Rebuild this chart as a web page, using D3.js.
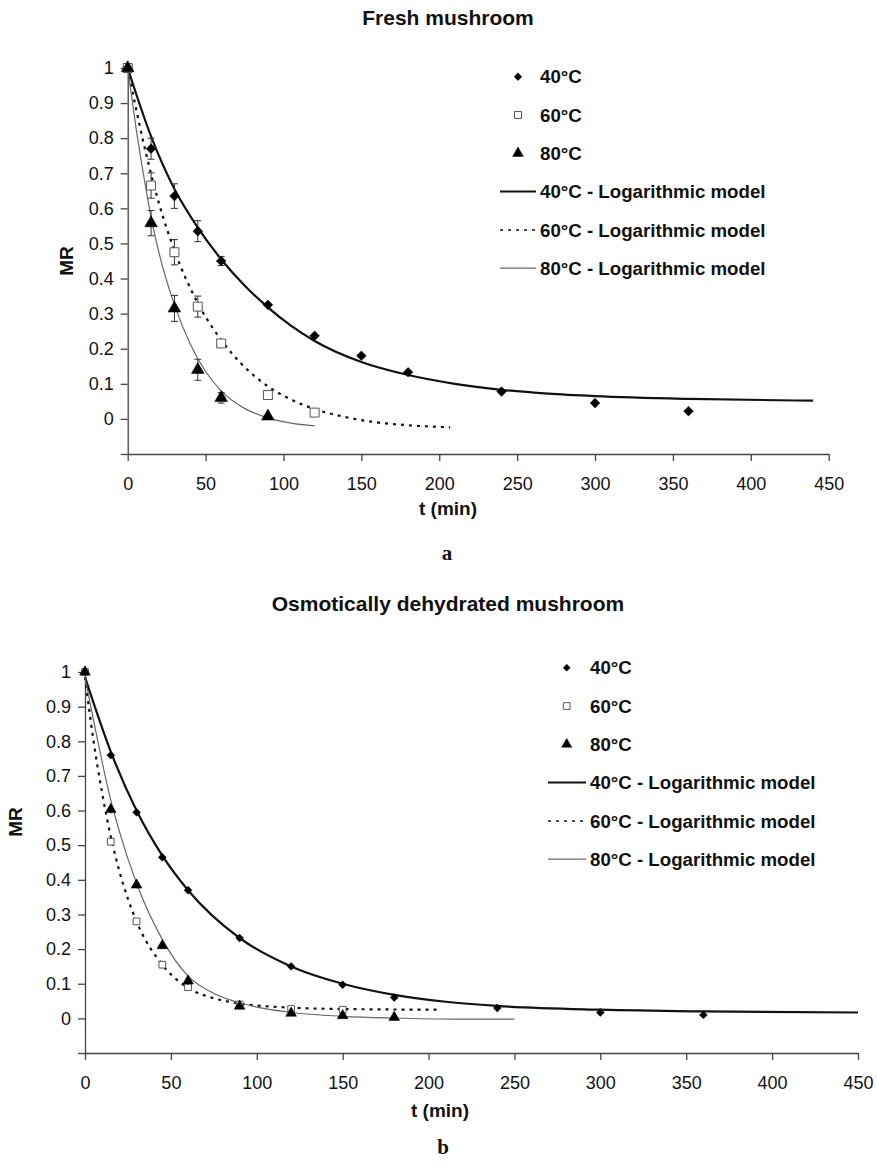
<!DOCTYPE html>
<html>
<head>
<meta charset="utf-8">
<script src="https://cdn.jsdelivr.net/npm/d3@7"></script>
<style>
  body { margin: 0; background: #fff; }
  text { font-family: "Liberation Sans", Arial, sans-serif; fill: #111; }
</style>
</head>
<body>
<script>
// ---- data ----
var labels40 = "40°C", labels60 = "60°C", labels80 = "80°C";
var modelSuffix = " - Logarithmic model";

// (a) fresh mushroom - measured points
var freshT40 = [0, 15, 30, 45, 60, 90, 120, 150, 180, 240, 300, 360];
var freshMR40 = [1, 0.77, 0.635, 0.535, 0.45, 0.325, 0.237, 0.18, 0.133, 0.078, 0.045, 0.022];
var freshErr40 = [0.01, 0.03, 0.035, 0.03, 0.013, 0.008, 0.008, 0.006, 0.006, 0.005, 0.005, 0.004];
var freshT60 = [0, 15, 30, 45, 60, 90, 120];
var freshMR60 = [1, 0.665, 0.475, 0.32, 0.215, 0.068, 0.018];
var freshErr60 = [0.01, 0.036, 0.036, 0.03, 0.012, 0.008, 0.006];
var freshT80 = [0, 15, 30, 45, 60, 90];
var freshMR80 = [1, 0.558, 0.315, 0.14, 0.06, 0.007];
var freshErr80 = [0.01, 0.036, 0.037, 0.03, 0.015, 0.005];

// (a) model curves
var freshModelT40 = [0, 15, 30, 45, 60, 75, 90, 105, 120, 150, 180, 210, 240, 270, 300, 360, 440];
var freshModel40 = [1, 0.805, 0.655, 0.545, 0.455, 0.38, 0.318, 0.265, 0.222, 0.162, 0.125, 0.1, 0.083, 0.072, 0.065, 0.057, 0.052];
var freshModelT60 = [0, 10, 20, 30, 45, 60, 75, 90, 105, 120, 140, 160, 180, 207];
var freshModel60 = [1, 0.79, 0.615, 0.48, 0.33, 0.225, 0.148, 0.093, 0.055, 0.028, 0.005, -0.01, -0.018, -0.024];
var freshModelT80 = [0, 5, 10, 15, 20, 30, 40, 50, 60, 75, 90, 105, 120];
var freshModel80 = [1, 0.84, 0.7, 0.575, 0.475, 0.325, 0.215, 0.135, 0.08, 0.03, 0.003, -0.012, -0.02];

// (b) osmotically dehydrated mushroom - measured points
var osmoT40 = [0, 15, 30, 45, 60, 90, 120, 150, 180, 240, 300, 360];
var osmoMR40 = [1, 0.76, 0.595, 0.465, 0.37, 0.232, 0.15, 0.097, 0.06, 0.03, 0.017, 0.01];
var osmoErr40 = [0.006, 0.01, 0.01, 0.008, 0.008, 0.008, 0.008, 0.008, 0.007, 0.006, 0.005, 0.005];
var osmoT60 = [0, 15, 30, 45, 60, 90, 120, 150];
var osmoMR60 = [1, 0.51, 0.28, 0.155, 0.09, 0.04, 0.027, 0.025];
var osmoErr60 = [0.006, 0.01, 0.008, 0.008, 0.008, 0.006, 0.005, 0.005];
var osmoT80 = [0, 15, 30, 45, 60, 90, 120, 150, 180];
var osmoMR80 = [1, 0.603, 0.385, 0.21, 0.108, 0.035, 0.015, 0.008, 0.003];
var osmoErr80 = [0.006, 0.012, 0.01, 0.01, 0.012, 0.006, 0.005, 0.005, 0.004];

// (b) model curves
var osmoModelT40 = [0, 15, 30, 45, 60, 90, 120, 150, 180, 210, 240, 300, 360, 450];
var osmoModel40 = [0.985, 0.77, 0.6, 0.47, 0.37, 0.232, 0.15, 0.1, 0.068, 0.048, 0.036, 0.025, 0.02, 0.017];
var osmoModelT60 = [0, 5, 10, 15, 20, 30, 45, 60, 75, 90, 120, 150, 207];
var osmoModel60 = [0.985, 0.8, 0.65, 0.525, 0.425, 0.28, 0.155, 0.088, 0.058, 0.043, 0.031, 0.027, 0.025];
var osmoModelT80 = [0, 10, 15, 20, 30, 45, 60, 75, 90, 105, 120, 150, 180, 215, 250];
var osmoModel80 = [0.985, 0.74, 0.63, 0.54, 0.39, 0.228, 0.122, 0.072, 0.045, 0.028, 0.017, 0.006, 0.001, -0.002, -0.002];

var xTicks = [0, 50, 100, 150, 200, 250, 300, 350, 400, 450];
var yTicks = [-0.1, 0, 0.1, 0.2, 0.3, 0.4, 0.5, 0.6, 0.7, 0.8, 0.9, 1];

var svg = d3.select("body").append("svg")
    .attr("width", 877)
    .attr("height", 1162);

function zip(ts, vs, es) {
    return ts.map(function (t, i) { return { t: t, v: vs[i], e: es ? es[i] : 0 }; });
}

function drawPanel(p) {
    var x = d3.scaleLinear().domain([0, 450]).range([p.left, p.right]);
    var y = d3.scaleLinear().domain([-0.1, 1]).range([p.bottom, p.top]);
    var g = svg.append("g");

    // title
    g.append("text")
        .attr("x", 448).attr("y", p.titleY)
        .attr("text-anchor", "middle")
        .style("font-size", "21px").style("font-weight", "bold")
        .text(p.title);

    // axes
    var xa = g.append("g")
        .attr("transform", "translate(0," + p.bottom + ")")
        .call(d3.axisBottom(x).tickValues(xTicks).tickSize(7).tickPadding(16).tickSizeOuter(0));
    var ya = g.append("g")
        .attr("transform", "translate(" + p.left + ",0)")
        .call(d3.axisLeft(y).tickValues(yTicks).tickSize(7).tickPadding(7).tickSizeOuter(0)
            .tickFormat(function (d) { return d < 0 ? "" : d3.format("")(+d.toFixed(1)); }));
    [xa, ya].forEach(function (a) {
        a.selectAll("path,line").attr("stroke", "#444").attr("stroke-width", 1.3);
        a.selectAll("text").style("font-size", "18px").style("font-family", "'Liberation Sans', Arial, sans-serif").attr("fill", "#111");
    });

    // axis titles
    g.append("text")
        .attr("transform", "translate(" + p.mrX + "," + p.mrY + ") rotate(-90)")
        .attr("text-anchor", "middle")
        .style("font-size", "19px").style("font-weight", "bold")
        .text("MR");
    g.append("text")
        .attr("x", p.tX).attr("y", p.tY)
        .attr("text-anchor", "middle")
        .style("font-size", "19px").style("font-weight", "bold")
        .text("t (min)");
    g.append("text")
        .attr("x", p.tagX).attr("y", p.tagY)
        .attr("text-anchor", "middle")
        .style("font-family", "'Liberation Serif', 'Times New Roman', serif")
        .style("font-size", "21px").style("font-weight", "bold")
        .text(p.tag);

    // model lines
    var line = d3.line()
        .x(function (d) { return x(d.t); })
        .y(function (d) { return y(d.v); })
        .curve(d3.curveMonotoneX);
    p.models.forEach(function (m) {
        g.append("path")
            .datum(m.data)
            .attr("d", line)
            .attr("fill", "none")
            .attr("stroke", m.color)
            .attr("stroke-width", m.width)
            .attr("stroke-dasharray", m.dash || null);
    });

    // points with error bars
    p.series.forEach(function (s) {
        var pts = g.append("g");
        pts.selectAll("line.err").data(s.data).enter().append("line")
            .attr("x1", function (d) { return x(d.t); })
            .attr("x2", function (d) { return x(d.t); })
            .attr("y1", function (d) { return y(d.v - d.e); })
            .attr("y2", function (d) { return y(d.v + d.e); })
            .attr("stroke", "#333").attr("stroke-width", 1);
        ["v-", "v+"].forEach(function (k) {
            pts.selectAll("line.cap").data(s.data.filter(function (d) { return d.e > 0.012; })).enter().append("line")
                .attr("x1", function (d) { return x(d.t) - 3.5; })
                .attr("x2", function (d) { return x(d.t) + 3.5; })
                .attr("y1", function (d) { return y(k === "v-" ? d.v - d.e : d.v + d.e); })
                .attr("y2", function (d) { return y(k === "v-" ? d.v - d.e : d.v + d.e); })
                .attr("stroke", "#333").attr("stroke-width", 1);
        });
        pts.selectAll("path.mk").data(s.data).enter().append("path")
            .attr("transform", function (d) { return "translate(" + x(d.t) + "," + y(d.v) + ")"; })
            .attr("d", d3.symbol().type(s.symbol).size(s.size))
            .attr("fill", s.fill)
            .attr("stroke", s.stroke)
            .attr("stroke-width", s.sw);
    });

    // legend
    var lg = g.append("g");
    var items = [
        { kind: "pt", s: p.series[0], label: labels40 },
        { kind: "pt", s: p.series[1], label: labels60 },
        { kind: "pt", s: p.series[2], label: labels80 },
        { kind: "ln", m: p.models[0], label: labels40 + modelSuffix },
        { kind: "ln", m: p.models[1], label: labels60 + modelSuffix },
        { kind: "ln", m: p.models[2], label: labels80 + modelSuffix }
    ];
    items.forEach(function (it, i) {
        var yy = p.legY + i * 38.3;
        if (it.kind === "pt") {
            lg.append("path")
                .attr("transform", "translate(" + p.legMark + "," + yy + ")")
                .attr("d", d3.symbol().type(it.s.symbol).size(it.s.legSize))
                .attr("fill", it.s.fill).attr("stroke", it.s.stroke).attr("stroke-width", it.s.sw);
        } else {
            lg.append("line")
                .attr("x1", p.legLine0).attr("x2", p.legLine1)
                .attr("y1", yy).attr("y2", yy)
                .attr("stroke", it.m.color)
                .attr("stroke-width", it.m.legWidth)
                .attr("stroke-dasharray", it.m.legDash || null);
        }
        lg.append("text")
            .attr("x", p.legText).attr("y", yy)
            .attr("dy", "0.36em")
            .style("font-size", "18.7px").style("font-weight", "bold")
            .text(it.label);
    });
}

var diamond = d3.symbolDiamond2, square = d3.symbolSquare, triangle = d3.symbolTriangle;

drawPanel({
    title: "Fresh mushroom", titleY: 25, tag: "a",
    left: 127.7, right: 828.7, top: 68, bottom: 454,
    mrX: 73, mrY: 261, tX: 448, tY: 515, tagX: 447, tagY: 560,
    legY: 76.7, legMark: 518, legLine0: 500, legLine1: 536, legText: 540,
    series: [
        { data: zip(freshT40, freshMR40, freshErr40), symbol: diamond, size: 60, legSize: 38, fill: "#000", stroke: "#000", sw: 0.5 },
        { data: zip(freshT60, freshMR60, freshErr60), symbol: square, size: 80, legSize: 50, fill: "#fff", stroke: "#555", sw: 1 },
        { data: zip(freshT80, freshMR80, freshErr80), symbol: triangle, size: 70, legSize: 50, fill: "#000", stroke: "#000", sw: 0.5 }
    ],
    models: [
        { data: zip(freshModelT40, freshModel40), color: "#111", width: 2.2, legWidth: 2 },
        { data: zip(freshModelT60, freshModel60), color: "#111", width: 2.2, dash: "3,5", legWidth: 1.5, legDash: "3,5" },
        { data: zip(freshModelT80, freshModel80), color: "#666", width: 1.2, legWidth: 1.2 }
    ]
});

drawPanel({
    title: "Osmotically dehydrated mushroom", titleY: 611, tag: "b",
    left: 85, right: 858, top: 672, bottom: 1053,
    mrX: 22, mrY: 822, tX: 440, tY: 1117, tagX: 443, tagY: 1154,
    legY: 667.7, legMark: 566.7, legLine0: 548, legLine1: 586, legText: 590,
    series: [
        { data: zip(osmoT40, osmoMR40, osmoErr40), symbol: diamond, size: 40, legSize: 32, fill: "#000", stroke: "#000", sw: 0.5 },
        { data: zip(osmoT60, osmoMR60, osmoErr60), symbol: square, size: 45, legSize: 45, fill: "#fff", stroke: "#555", sw: 1 },
        { data: zip(osmoT80, osmoMR80, osmoErr80), symbol: triangle, size: 50, legSize: 45, fill: "#000", stroke: "#000", sw: 0.5 }
    ],
    models: [
        { data: zip(osmoModelT40, osmoModel40), color: "#111", width: 2.2, legWidth: 2 },
        { data: zip(osmoModelT60, osmoModel60), color: "#111", width: 2.2, dash: "3,5", legWidth: 1.5, legDash: "3,5" },
        { data: zip(osmoModelT80, osmoModel80), color: "#666", width: 1.2, legWidth: 1.2 }
    ]
});
</script>
</body>
</html>
